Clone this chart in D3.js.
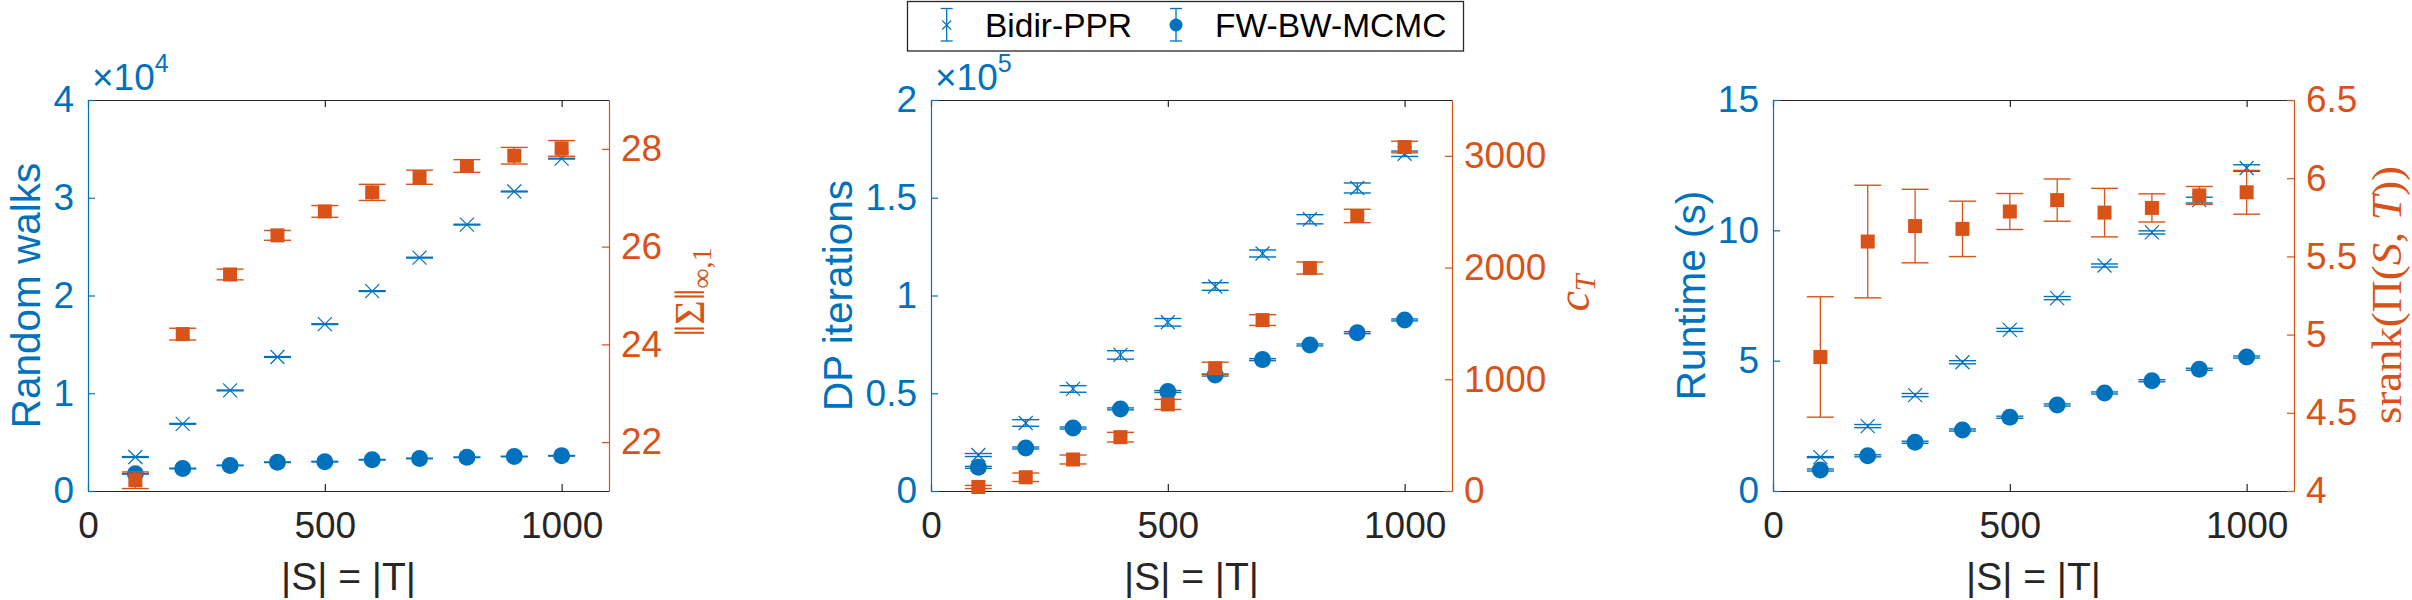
<!DOCTYPE html>
<html><head><meta charset="utf-8">
<script src="https://cdn.jsdelivr.net/npm/d3@7"></script>
<style>body{margin:0;background:#fff}</style>
</head><body><svg id="c" width="2412" height="600" xmlns="http://www.w3.org/2000/svg"></svg>
<script>
// ---------- data ----------
const sizes = [100, 200, 300, 400, 500, 600, 700, 800, 900, 1000];
const xTicks = [0, 500, 1000];

// panel 1: random walks (left) and ||Sigma||_{inf,1} (right)
const rwBidir    = [3480, 6870, 10290, 13710, 17070, 20450, 23870, 27250, 30640, 34000];
const rwBidirErr = [40, 40, 40, 40, 40, 40, 40, 40, 40, 40];
const rwFW       = [1760, 2300, 2620, 2940, 3000, 3200, 3330, 3450, 3530, 3600];
const rwFWErr    = [30, 30, 30, 30, 30, 30, 30, 30, 30, 30];
const sigmaNorm    = [21.22, 24.21, 25.43, 26.23, 26.72, 27.11, 27.42, 27.65, 27.86, 28.01];
const sigmaNormErr = [0.17, 0.12, 0.11, 0.10, 0.12, 0.165, 0.145, 0.13, 0.17, 0.16];
const rwTicks = [0, 10000, 20000, 30000, 40000];
const sigmaTicks = [22, 24, 26, 28];

// panel 2: DP iterations (left) and c_T (right)
const dpBidir    = [18400, 34800, 52200, 69600, 86300, 104600, 121500, 139000, 155000, 172500];
const dpBidirErr = [770, 1690, 1690, 2150, 1940, 1940, 1790, 2350, 2560, 1380];
const dpFW       = [12100, 22000, 32200, 42000, 50900, 59300, 67200, 74700, 81000, 87500];
const dpFWErr    = [500, 500, 500, 500, 500, 500, 500, 500, 500, 500];
const cT    = [36, 123, 282, 482, 775, 1099, 1530, 1996, 2462, 3079];
const cTErr = [14, 38, 40, 43, 45, 54, 48, 54, 60, 52];
const dpTicks = [0, 50000, 100000, 150000, 200000];
const cTTicks = [0, 1000, 2000, 3000];

// panel 3: runtime (left) and srank (right)
const rtBidir    = [1.30, 2.49, 3.68, 4.94, 6.18, 7.40, 8.65, 9.92, 11.16, 12.39];
const rtBidirErr = [0.02, 0.06, 0.06, 0.06, 0.06, 0.06, 0.06, 0.06, 0.11, 0.126];
const rtFW       = [0.805, 1.35, 1.87, 2.34, 2.83, 3.30, 3.76, 4.23, 4.67, 5.14];
const rtFWErr    = [0.04, 0.04, 0.04, 0.04, 0.04, 0.04, 0.04, 0.04, 0.04, 0.04];
const srank    = [4.857, 5.595, 5.694, 5.676, 5.787, 5.86, 5.78, 5.81, 5.89, 5.91];
const srankErr = [0.385, 0.36, 0.235, 0.177, 0.115, 0.135, 0.155, 0.09, 0.057, 0.14];
const rtTicks = [0, 5, 10, 15];
const srankTicks = [4, 4.5, 5, 5.5, 6, 6.5];

const legendLabels = ["Bidir-PPR", "FW-BW-MCMC"];

// ---------- style ----------
const BLUE = "#0072BD", ORANGE = "#D95319", DARK = "#262626";
const SANS = "'Liberation Sans', Arial, Helvetica, sans-serif";
const SERIF = "'Liberation Serif', 'Times New Roman', serif";
const TOP = 100, BOTTOM = 491, W = 521;
const TICKFS = 37;
const svg = d3.select("#c");

function styleAxis(g, color, showText) {
  g.attr("font-family", SANS).attr("font-size", TICKFS);
  g.select(".domain").attr("stroke", color).attr("stroke-width", 1.2);
  g.selectAll(".tick line").attr("stroke", color).attr("stroke-width", 1.2);
  g.selectAll(".tick text").attr("fill", color);
  if (!showText) g.selectAll(".tick text").remove();
}

function drawErr(g, x, y, vals, errs, color, marker) {
  const data = sizes.map((s, i) => ({ s, v: vals[i], e: errs[i] }));
  const grp = g.append("g");
  const items = grp.selectAll("g").data(data).join("g");
  items.append("line").attr("x1", d => x(d.s)).attr("x2", d => x(d.s))
    .attr("y1", d => y(d.v - d.e)).attr("y2", d => y(d.v + d.e))
    .attr("stroke", color).attr("stroke-width", 1.3);
  [-1, 1].forEach(sg => {
    items.append("line").attr("x1", d => x(d.s) - 13.5).attr("x2", d => x(d.s) + 13.5)
      .attr("y1", d => y(d.v + sg * d.e)).attr("y2", d => y(d.v + sg * d.e))
      .attr("stroke", color).attr("stroke-width", 1.4);
  });
  if (marker === "x") {
    const h = 7;
    items.append("path")
      .attr("d", d => { const cx = x(d.s), cy = y(d.v);
        return `M${cx-h},${cy-h}L${cx+h},${cy+h}M${cx-h},${cy+h}L${cx+h},${cy-h}`; })
      .attr("stroke", color).attr("stroke-width", 1.2).attr("fill", "none");
  } else if (marker === "o") {
    items.append("circle").attr("cx", d => x(d.s)).attr("cy", d => y(d.v)).attr("r", 8.5).attr("fill", color);
  } else {
    items.append("rect").attr("x", d => x(d.s) - 7).attr("y", d => y(d.v) - 7)
      .attr("width", 14).attr("height", 14).attr("fill", color);
  }
}

function panel(cfg) {
  const g = svg.append("g");
  const L = cfg.left;
  const x = d3.scaleLinear().domain([0, 1100]).range([L, L + W]);
  const yL = d3.scaleLinear().domain(cfg.lDomain).range([BOTTOM, TOP]);
  const yR = d3.scaleLinear().domain(cfg.rDomain).range([BOTTOM, TOP]);

  const ax = g.append("g").attr("transform", `translate(0,${BOTTOM})`)
    .call(d3.axisBottom(x).tickValues(xTicks).tickSize(-7).tickSizeOuter(0).tickPadding(20.5).tickFormat(d3.format("d")));
  styleAxis(ax, DARK, true);
  const axT = g.append("g").attr("transform", `translate(0,${TOP})`)
    .call(d3.axisTop(x).tickValues(xTicks).tickSize(-7).tickSizeOuter(0));
  styleAxis(axT, DARK, false);

  const axL = g.append("g").attr("transform", `translate(${L},0)`)
    .call(d3.axisLeft(yL).tickValues(cfg.lTicks).tickSize(-7).tickSizeOuter(0).tickPadding(14).tickFormat(cfg.lFmt));
  styleAxis(axL, BLUE, true);
  const axR = g.append("g").attr("transform", `translate(${L + W},0)`)
    .call(d3.axisRight(yR).tickValues(cfg.rTicks).tickSize(-7).tickSizeOuter(0).tickPadding(12).tickFormat(cfg.rFmt));
  styleAxis(axR, ORANGE, true);

  drawErr(g, x, yL, cfg.bidir, cfg.bidirErr, BLUE, "x");
  drawErr(g, x, yL, cfg.fw, cfg.fwErr, BLUE, "o");
  drawErr(g, x, yR, cfg.right, cfg.rightErr, ORANGE, "s");

  // x label
  g.append("text").attr("x", L + W / 2).attr("y", 590).attr("text-anchor", "middle")
    .attr("font-family", SANS).attr("font-size", 39).attr("fill", DARK).text("|S| = |T|");
  // y label left
  g.append("text").attr("transform", `translate(${cfg.lLabelX},${(TOP + BOTTOM) / 2}) rotate(-90)`)
    .attr("text-anchor", "middle").attr("font-family", SANS).attr("font-size", 40.5)
    .attr("fill", BLUE).text(cfg.lLabel);
  // exponent
  if (cfg.exp) {
    const t = g.append("text").attr("x", L + 4).attr("y", 90).attr("font-family", SANS)
      .attr("font-size", 37).attr("fill", BLUE);
    t.append("tspan").text("\u00d710");
    t.append("tspan").attr("font-size", 25).attr("dy", -18).text(cfg.exp);
  }
  cfg.rLabel(g);
}

panel({
  left: 88, lDomain: [0, 40000], rDomain: [21, 29], lTicks: rwTicks, rTicks: sigmaTicks,
  lFmt: d => d / 1e4, rFmt: d => d,
  bidir: rwBidir, bidirErr: rwBidirErr, fw: rwFW, fwErr: rwFWErr, right: sigmaNorm, rightErr: sigmaNormErr,
  lLabel: "Random walks", lLabelX: 39.5, exp: "4",
  rLabel: g => {
    const t = g.append("text").attr("transform", `translate(704,292) rotate(-90)`)
      .attr("text-anchor", "middle").attr("font-family", SERIF).attr("font-size", 42).attr("fill", ORANGE);
    t.append("tspan").text("\u2016\u03a3\u2016");
    t.append("tspan").attr("font-size", 28).attr("dy", 7).text("\u221e,1");
  }
});

panel({
  left: 931, lDomain: [0, 200000], rDomain: [0, 3500], lTicks: dpTicks, rTicks: cTTicks,
  lFmt: d => d / 1e5, rFmt: d => d,
  bidir: dpBidir, bidirErr: dpBidirErr, fw: dpFW, fwErr: dpFWErr, right: cT, rightErr: cTErr,
  lLabel: "DP iterations", lLabelX: 852, exp: "5",
  rLabel: g => {
    const t = g.append("text").attr("transform", `translate(1589,293) rotate(-90)`)
      .attr("text-anchor", "middle").attr("font-family", SERIF).attr("font-style", "italic")
      .attr("font-size", 46).attr("fill", ORANGE);
    t.append("tspan").text("c");
    t.append("tspan").attr("font-size", 30).attr("dy", 6).text("T");
  }
});

panel({
  left: 1773, lDomain: [0, 15], rDomain: [4, 6.5], lTicks: rtTicks, rTicks: srankTicks,
  lFmt: d => d, rFmt: d => d,
  bidir: rtBidir, bidirErr: rtBidirErr, fw: rtFW, fwErr: rtFWErr, right: srank, rightErr: srankErr,
  lLabel: "Runtime (s)", lLabelX: 1705, exp: null,
  rLabel: g => {
    const t = g.append("text").attr("transform", `translate(2401,295) rotate(-90)`)
      .attr("text-anchor", "middle").attr("font-family", SERIF)
      .attr("font-size", 43).attr("fill", ORANGE)
      .attr("textLength", 258).attr("lengthAdjust", "spacingAndGlyphs");
    t.append("tspan").text("srank(\u03a0(");
    t.append("tspan").attr("font-style", "italic").text("S");
    t.append("tspan").text(", ");
    t.append("tspan").attr("font-style", "italic").text("T");
    t.append("tspan").text("))");
  }
});

// ---------- legend ----------
const lg = svg.append("g");
lg.append("rect").attr("x", 907.5).attr("y", 1.5).attr("width", 556).attr("height", 49.5)
  .attr("fill", "#fff").attr("stroke", DARK).attr("stroke-width", 1.3);
const legItems = [
  { label: legendLabels[0], ix: 946.7, tx: 985, m: "x" },
  { label: legendLabels[1], ix: 1176, tx: 1215, m: "o" }
];
legItems.forEach(it => {
  lg.append("line").attr("x1", it.ix).attr("x2", it.ix).attr("y1", 8.5).attr("y2", 41)
    .attr("stroke", BLUE).attr("stroke-width", 1.3);
  [8.5, 41].forEach(yy => lg.append("line").attr("x1", it.ix - 6).attr("x2", it.ix + 6)
    .attr("y1", yy).attr("y2", yy).attr("stroke", BLUE).attr("stroke-width", 1.3));
  if (it.m === "x") {
    const h = 4.5, cx = it.ix, cy = 25;
    lg.append("path").attr("d", `M${cx-h},${cy-h}L${cx+h},${cy+h}M${cx-h},${cy+h}L${cx+h},${cy-h}`)
      .attr("stroke", BLUE).attr("stroke-width", 1.1).attr("fill", "none");
  } else {
    lg.append("circle").attr("cx", it.ix).attr("cy", 25).attr("r", 6.5).attr("fill", BLUE);
  }
  lg.append("text").attr("x", it.tx).attr("y", 37).attr("font-family", SANS).attr("font-size", 33.5)
    .attr("fill", "#000").text(it.label);
});
</script>
</body></html>
